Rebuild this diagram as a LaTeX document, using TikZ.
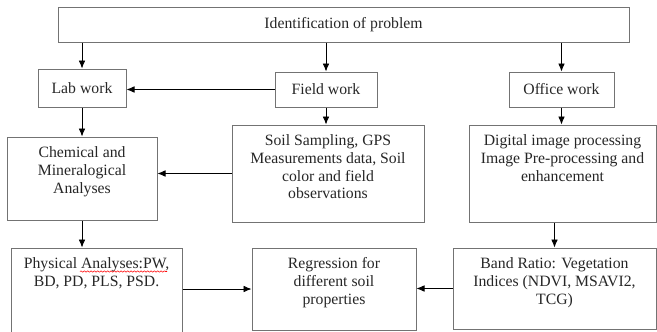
\documentclass[tikz,border=0pt]{standalone}
\usepackage{fontspec}
\setmainfont{Liberation Serif}
\usetikzlibrary{shapes,arrows,arrows.meta,positioning,calc,decorations.pathmorphing}

\tikzset{
    box/.style 2 args={draw=gray!90!black, line width=0.75pt, rectangle, inner sep=0pt,
        minimum width=#1*0.75pt, minimum height=#2*0.75pt},
    txt/.style={inner sep=0pt, align=center, text=black!85,
        font=\fontsize{11.8}{13.3}\selectfont},
    flow/.style={->, line width=0.6pt, black}
}

\begin{document}
\begin{tikzpicture}[x=0.75pt, y=-0.75pt, >={Latex[length=6pt,width=5pt]}]
            \useasboundingbox (0,0) rectangle (657,332);
            \clip (0,0) rectangle (657,332);
            
            % Top row
            \node[box={571}{35}] (prob) at (343.5,24.5) {};
            \node[txt] (probtxt) at (prob) {Identification of problem};
            
            \node[box={88}{38}] (lab) at (82,88) {};
            \node[txt] (labtxt) at (lab) {Lab work};
            \node[box={102}{35}] (field) at (326,89.5) {};
            \node[txt] (fieldtxt) at (field) {Field work};
            \node[box={105}{35}] (office) at (561.5,89.5) {};
            \node[txt] (officetxt) at (office) {Office work};
            
            % Middle row
            \node[box={150}{83}] (chem) at (82,178.5) {};
            \node[txt, below=7.5pt of chem.north] (chemtxt) {Chemical and\\Mineralogical\\Analyses};
            \node[box={192}{97}] (soil) at (328,173.5) {};
            \node[txt, below=7.5pt of soil.north] (soiltxt) {Soil Sampling, GPS\\Measurements data, Soil\\color and field\\observations};
            \node[box={187}{97}] (digital) at (562.5,173.5) {};
            \node[txt, below=7.5pt of digital.north] (digitaltxt) {Digital image processing\\Image Pre-processing and\\enhancement};
            
            % Bottom row
            \node[box={171}{97}] (phys) at (96.5,296.5) {};
            \node[txt, below=7.5pt of phys.north] (phystxt) {Physical Analyses:PW,\\BD, PD, PLS, PSD.};
            \node[box={164}{82}] (regr) at (334,289) {};
            \node[txt, below=7.5pt of regr.north] (regrtxt) {Regression for\\different soil\\properties};
            \node[box={203}{81}] (band) at (554.5,288.5) {};
            \node[txt, below=7.5pt of band.north] (bandtxt) {Band Ratio: Vegetation\\Indices (NDVI, MSAVI2,\\TCG)};
            
            % spell check mark
            \draw[red, line width=0.4pt, decorate, decoration={snake, amplitude=0.5pt, segment length=2.5pt}]
                (80,271.5) -- (167,271.5);
            
            % Arrows
            \draw[flow] (prob.south -| lab) -- (lab.north);
            \draw[flow] (prob.south -| field) -- (field.north);
            \draw[flow] (prob.south -| office) -- (office.north);
            \draw[flow] (field.west) -- (field.west -| lab.east);
            \draw[flow] (lab.south) -- (chem.north);
            \draw[flow] (field.south) -- (field.south |- soil.north);
            \draw[flow] (office.south) -- (office.south |- digital.north);
            \draw[flow] (soil.west) -- (soil.west -| chem.east);
            \draw[flow] (chem.south) -- (chem.south |- phys.north);
            \draw[flow] (phys.east |- regr.west) -- (regr.west);
            \draw[flow] (band.west) -- (band.west -| regr.east);
            \draw[flow] (digital.south -| band) -- (band.north);
        \end{tikzpicture}
\end{document}
